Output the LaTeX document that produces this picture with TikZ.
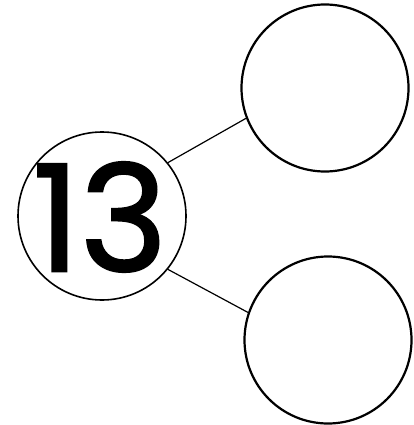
\documentclass[tikz,border=0pt]{standalone}
\usepackage{fontspec}
\newfontfamily\numfont[FakeBold=1.6]{Poppins}
\begin{document}
\begin{tikzpicture}[x=1pt,y=-1pt,
  bigcirc/.style={circle,draw=black,line width=2.2pt,minimum size=167pt,inner sep=0pt},
  numcirc/.style={circle,draw=black,line width=1.6pt,minimum size=168pt,inner sep=0pt},
  link/.style={draw=black,line width=1.2pt}]
\useasboundingbox (0,0) rectangle (414,425);
\node[numcirc] (n) at (102,216) {};
\node[bigcirc] (a) at (325,88) {};
\node[bigcirc] (b) at (328,340) {};
\node[inner sep=0pt] (t) at (100,217) {\fontsize{148}{148}\selectfont\numfont 13};
\draw[link] (n.{39}) -- (a.{201});
\draw[link] (n.{-39}) -- (b.{161});
\end{tikzpicture}
\end{document}
